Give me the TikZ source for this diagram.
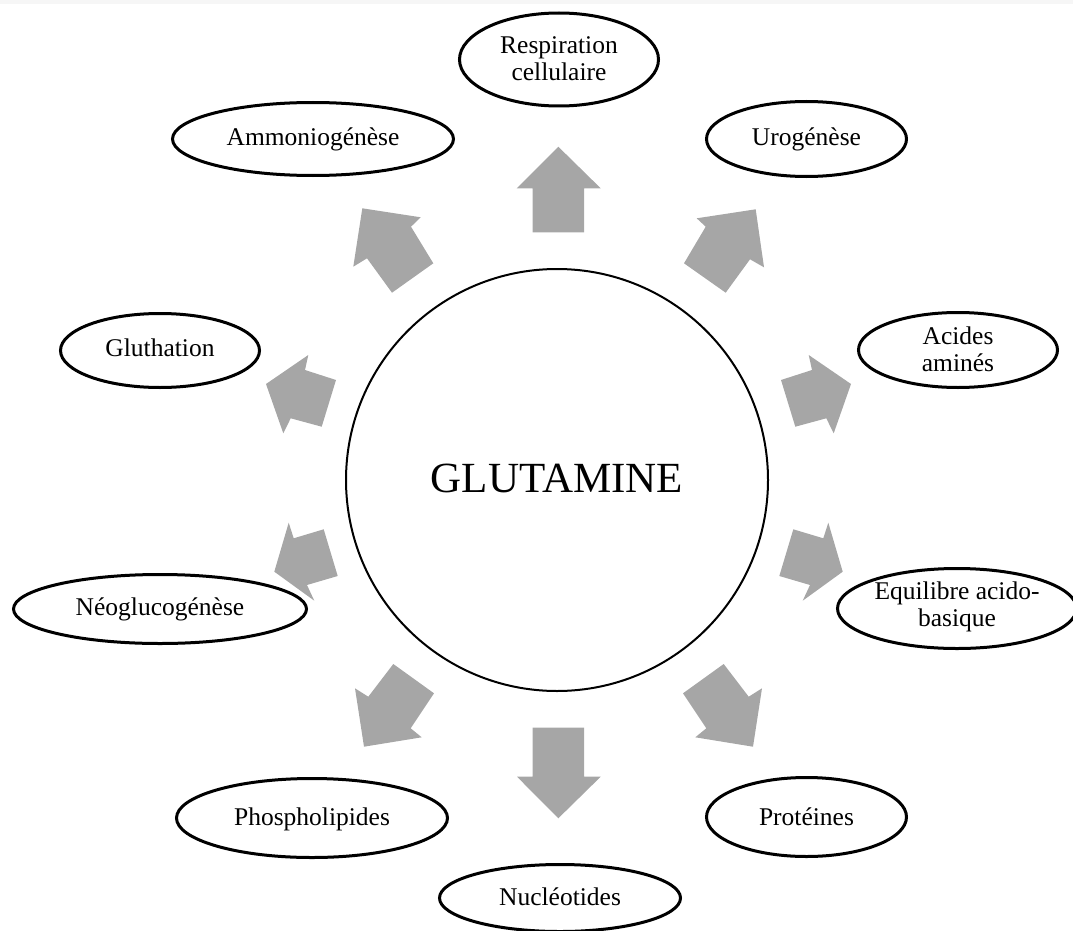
\documentclass[tikz,border=0pt]{standalone}
\usepackage{fontspec}
\setmainfont{Liberation Serif}
\usetikzlibrary{shapes.geometric}
\definecolor{arrowgray}{RGB}{166,166,166}
\definecolor{topband}{RGB}{246,246,246}
\begin{document}
\begin{tikzpicture}[x=1pt,y=-1pt,
  oval/.style={ellipse, draw, line width=3pt, inner sep=0pt, outer sep=0pt},
  lab/.style={font=\fontsize{25.5}{27}\selectfont, align=center, inner sep=0pt},
  onelab/.style={lab, anchor=base},
  blockarrow/.style={fill=arrowgray, draw=none},
  hub/.style={circle, draw, line width=2pt, inner sep=0pt}]
\clip (0,0) rectangle (1073,931);
\fill[topband] (0,0) rectangle (1073,4);

% central circle
\node[hub, minimum size=422pt] (glu) at (557,480) {};
\node[font=\fontsize{43}{48}\selectfont, anchor=base, inner sep=0pt] (glutxt) at ([yshift=-12pt]glu.center) {GLUTAMINE};

% ellipses
\node[oval, minimum width=199pt, minimum height=93pt] (eresp) at (559,59.5) {};
\node[oval, minimum width=200pt, minimum height=75pt] (euro) at (806.5,139) {};
\node[oval, minimum width=281pt, minimum height=73pt] (eammo) at (313,139) {};
\node[oval, minimum width=199pt, minimum height=75pt] (eacid) at (958,350) {};
\node[oval, minimum width=199pt, minimum height=74pt] (eglut) at (160,350.5) {};
\node[oval, minimum width=239pt, minimum height=80pt] (eequi) at (957,608.5) {};
\node[oval, minimum width=293pt, minimum height=69pt] (eneo) at (160,609) {};
\node[oval, minimum width=271pt, minimum height=79pt] (ephos) at (312,818) {};
\node[oval, minimum width=200pt, minimum height=79pt] (eprot) at (806.5,817) {};
\node[oval, minimum width=241pt, minimum height=67pt] (enucl) at (560,898) {};

% labels
\node[lab] (tresp) at ([yshift=1pt]eresp.center) {Respiration\\cellulaire};
\node[onelab] (turo) at ([yshift=-6.5pt]euro.center) {Urogénèse};
\node[onelab] (tammo) at ([yshift=-6.5pt]eammo.center) {Ammoniogénèse};
\node[lab] (tacid) at ([yshift=1pt]eacid.center) {Acides\\aminés};
\node[onelab] (tglut) at ([yshift=-6pt]eglut.center) {Gluthation};
\node[lab] (tequi) at ([yshift=2pt]eequi.center) {Equilibre acido-\\basique};
\node[onelab] (tneo) at ([yshift=-6.5pt]eneo.center) {Néoglucogénèse};
\node[onelab] (tphos) at ([yshift=-7pt]ephos.center) {Phospholipides};
\node[onelab] (tprot) at ([yshift=-8pt]eprot.center) {Protéines};
\node[onelab] (tnucl) at ([yshift=-7pt]enucl.center) {Nucléotides};

% block arrows
% up
\fill[blockarrow] (532.7,232.3) -- (584,232.3) -- (584,188.3) -- (600.7,188.3) -- (558.3,146.7) -- (516.7,188.3) -- (532.7,188.3) -- cycle;
% down
\fill[blockarrow] (532.7,727.7) -- (584,727.7) -- (584,776.7) -- (600.7,776.7) -- (558.3,818.3) -- (517,776.7) -- (532.7,776.7) -- cycle;
% upper right (Urogenese)
\fill[blockarrow] (755.7,209.3) -- (696.7,218.3) -- (705.7,226.7) -- (684,263.3) -- (725.7,292.7) -- (750,259.3) -- (764,267.3) -- cycle;
% upper left (Ammoniogenese)
\fill[blockarrow] (362.3,208.3) -- (420.7,217.3) -- (411,226.7) -- (433.3,263.3) -- (392,292.7) -- (367,258.3) -- (353.3,266.7) -- cycle;
% left (Gluthation)
\fill[blockarrow] (266,384) -- (308.3,355) -- (305,370) -- (336,380) -- (321.7,426.7) -- (290.7,418.3) -- (283.3,433.3) -- cycle;
% right (Acides amines)
\fill[blockarrow] (851,384) -- (808.7,355) -- (812,370) -- (781,380) -- (795.3,426.7) -- (826.3,418.3) -- (833.7,433.3) -- cycle;
% right lower (Equilibre)
\fill[blockarrow] (842.7,571.7) -- (828.3,522.7) -- (823.3,538.3) -- (793.3,529.3) -- (779.3,576) -- (810,585) -- (802.7,600.7) -- cycle;
% left lower (Neoglucogenese)
\fill[blockarrow] (274.3,571.7) -- (288.7,522.7) -- (293.7,538.3) -- (323.7,529.3) -- (337.7,576) -- (307,585) -- (314.3,600.7) -- cycle;
% lower left (Phospholipides)
\fill[blockarrow] (364,746.7) -- (355,688.3) -- (368.3,696.7) -- (393.3,664) -- (434,693.3) -- (410.7,728.3) -- (421.7,737.3) -- cycle;
% lower right (Proteines)
\fill[blockarrow] (753,746.7) -- (762,688.3) -- (748.7,696.7) -- (723.7,664) -- (683,693.3) -- (706.3,728.3) -- (695.3,737.3) -- cycle;
\end{tikzpicture}
\end{document}
